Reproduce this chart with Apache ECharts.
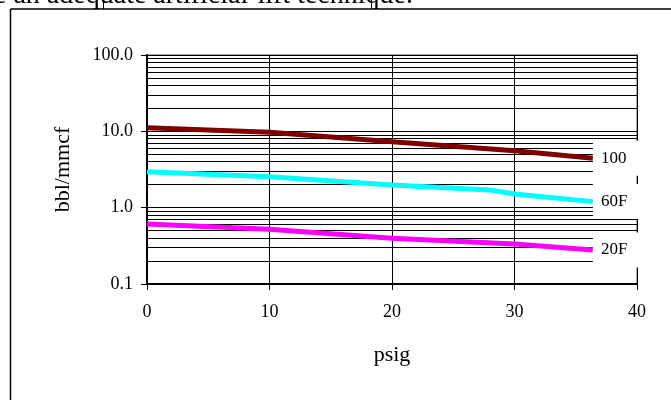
<!DOCTYPE html>
<html><head><meta charset="utf-8">
<script src="https://cdn.jsdelivr.net/npm/echarts@6/dist/echarts.min.js"></script>
<style>html,body{margin:0;padding:0;background:#fff}#c{width:671px;height:400px}</style>
</head><body><div id="c"></div>
<script>
const xTicks = [0, 10, 20, 30, 40];
const yTicks = [0.1, 1, 10, 100];
const minorGrid = [0.2,0.3,0.4,0.5,0.6,0.7,0.8,0.9,2,3,4,5,6,7,8,9,20,30,40,50,60,70,80,90];
const psig100 = [0, 10, 20, 30, 36.4];
const val100  = [11.15, 9.7, 7.3, 5.57, 4.43];
const psig60  = [0, 10, 20, 28, 30, 36.4];
const val60   = [2.96, 2.55, 1.98, 1.71, 1.51, 1.2];
const psig20  = [0, 10, 20, 30, 36.4];
const val20   = [0.611, 0.52, 0.397, 0.334, 0.279];
const seriesNames = ['100', '60F', '20F'];
const colors = ['#800000', '#00FFFF', '#FF00FF'];

const font = '"Liberation Serif","Times New Roman",serif';
const chart = echarts.init(document.getElementById('c'), null, {renderer:'canvas'});
function mk(name, xs, ys, color){
  return {
    name, type:'line', data: xs.map((x,i)=>[x, ys[i]]), symbol:'none', z:10,
    lineStyle:{color, width:5}, itemStyle:{color},
    endLabel:{show:true, formatter:name, fontFamily:font, fontSize:17, color:'#000',
      backgroundColor:'#fff', padding:[9,15,9,8], distance:0}
  };
}
chart.setOption({
  animation:false,
  grid:{left:147, right:34, top:55, bottom:116, show:true, borderColor:'#aaa', borderWidth:2, backgroundColor:'transparent'},
  xAxis:{type:'value', min:0, max:40, interval:10,
    name:'psig', nameLocation:'middle', nameGap:60,
    nameTextStyle:{fontFamily:font, fontSize:22, color:'#000'},
    axisLine:{show:true, onZero:false, lineStyle:{color:'#000', width:2}},
    axisTick:{show:true, inside:false, length:6, lineStyle:{color:'#000'}},
    axisLabel:{fontFamily:font, fontSize:18, color:'#000', margin:19},
    splitLine:{show:true, lineStyle:{color:'#000', width:1}}},
  yAxis:{type:'log', logBase:10, min:0.1, max:100,
    name:'bbl/mmcf', nameLocation:'middle', nameGap:73, nameRotate:90,
    nameTextStyle:{fontFamily:font, fontSize:22, color:'#000'},
    axisLine:{show:true, lineStyle:{color:'#000', width:2}},
    axisTick:{show:true, inside:false, length:6, lineStyle:{color:'#000'}},
    axisLabel:{fontFamily:font, fontSize:18, color:'#000', margin:14,
      formatter:v=>Number(v).toFixed(1)},
    splitLine:{show:true, lineStyle:{color:'#000', width:1}}},
  series:[
    {type:'line', data:[], z:1, silent:true,
     markLine:{silent:true, z:1, zlevel:0, symbol:'none', label:{show:false}, animation:false,
       lineStyle:{color:'#000', width:1, type:'solid'},
       data: minorGrid.map(v=>({yAxis:v}))}},
    mk(seriesNames[0], psig100, val100, colors[0]),
    mk(seriesNames[1], psig60, val60, colors[1]),
    mk(seriesNames[2], psig20, val20, colors[2])
  ],
  graphic:[
    {type:'text', x:-20, y:10, style:{text:'be an adequate artificial-lift technique.', font:'28px '+font, fill:'#000', verticalAlign:'bottom'}},
    {type:'line', shape:{x1:10.5, y1:9, x2:671, y2:9}, style:{stroke:'#000', lineWidth:1.5}},
    {type:'line', shape:{x1:10.5, y1:9, x2:10.5, y2:400}, style:{stroke:'#000', lineWidth:1.5}},
    {type:'line', shape:{x1:103.5, y1:0, x2:103.5, y2:9}, style:{stroke:'#000', lineWidth:1}},
    {type:'line', shape:{x1:371.5, y1:0, x2:371.5, y2:9}, style:{stroke:'#000', lineWidth:1}}
  ]
});
</script></body></html>
